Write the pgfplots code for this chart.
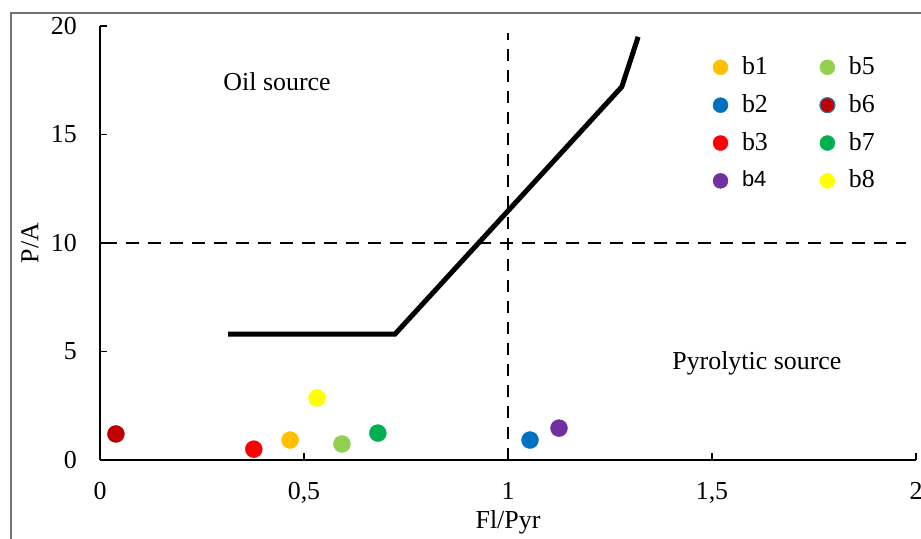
\documentclass[border=0pt]{standalone}
\usepackage{fontspec}
\setmainfont{Liberation Serif}
\setsansfont{Liberation Sans}
\usepackage{pgfplots}
\pgfplotsset{compat=1.18}
\definecolor{cb1}{HTML}{FFC000}
\definecolor{cb2}{HTML}{0070C0}
\definecolor{cb3}{HTML}{FF0000}
\definecolor{cb4}{HTML}{7030A0}
\definecolor{cb5}{HTML}{92D050}
\definecolor{cb6}{HTML}{C00000}
\definecolor{cb7}{HTML}{00B050}
\definecolor{cb8}{HTML}{FFFF00}
\definecolor{ring}{HTML}{41719C}
\begin{document}
\fontsize{26}{31}\selectfont
\begin{tikzpicture}
\useasboundingbox (-100bp,-79bp) rectangle (821bp,460bp);
\draw[black!55, line width=1.6bp] (-89bp,-85bp) -- (-89bp,447bp) -- (830bp,447bp);
\begin{axis}[
  scale only axis, width=816bp, height=434bp,
  xmin=0, xmax=2, ymin=0, ymax=20,
  axis lines=left, axis line style={-, line width=1.3bp, black},
  clip=false,
  xtick={0,0.5,1,1.5,2}, xticklabels={0,{0,5},1,{1,5},2},
  ytick={0,5,10,15,20}, yticklabels={0,5,10,15,20},
  tick align=inside, major tick length=7bp,
  major tick style={line width=1.3bp, black},
  xticklabel style={inner sep=0pt, anchor=north, yshift=-22bp},
  yticklabel style={inner sep=0pt, anchor=east, xshift=-23bp},
  xlabel={Fl/Pyr}, ylabel={P/A},
  xlabel style={at={([yshift=-62bp]rel axis cs:0.5,0)}, anchor=center},
  ylabel style={at={([xshift=-70bp]rel axis cs:0,0.5)}, anchor=center},
  legend columns=2,
  legend image code/.code={\draw[#1, mark size=7.5bp] plot coordinates {(8bp,0bp)};},
  legend style={draw=none, fill=none, inner sep=0pt,
    at={(rel axis cs:0.751,0.935)}, anchor=north west,
    row sep=12bp,
    /tikz/every odd column/.append style={column sep=12bp},
    /tikz/every even column/.append style={column sep=50bp},
    cells={anchor=west}},
  legend cell align=left,
]
% boundary lines
\addplot[forget plot, black, line width=5bp] coordinates {(0.314,5.8) (0.723,5.8) (1.279,17.2) (1.319,19.5)};
\addplot[forget plot, black, line width=2.6bp, dash pattern=on 12bp off 9bp] coordinates {(1,0) (1,19.7)};
\addplot[forget plot, black, line width=2.6bp, dash pattern=on 13bp off 9bp] coordinates {(0.01,10) (1.975,10)};
% samples (legend order: b1 b5 b2 b6 b3 b7 b4 b8)
\addplot[only marks, mark=*, mark size=8.5bp, draw=cb1, fill=cb1, color=cb1] coordinates {(0.466,0.92)};
\addlegendentry{b1}
\addplot[only marks, mark=*, mark size=8.5bp, draw=cb5, fill=cb5, color=cb5] coordinates {(0.593,0.74)};
\addlegendentry{b5}
\addplot[only marks, mark=*, mark size=8.5bp, draw=cb2, fill=cb2, color=cb2] coordinates {(1.054,0.92)};
\addlegendentry{b2}
\addplot[forget plot, only marks, mark=*, mark size=8.5bp, draw=cb6, fill=cb6, color=cb6] coordinates {(0.039,1.2)};
\addlegendimage{only marks, mark=*, mark options={fill=cb6, draw=ring, line width=1.2bp}}
\addlegendentry{b6}
\addplot[only marks, mark=*, mark size=8.5bp, draw=cb3, fill=cb3, color=cb3] coordinates {(0.377,0.5)};
\addlegendentry{b3}
\addplot[only marks, mark=*, mark size=8.5bp, draw=cb7, fill=cb7, color=cb7] coordinates {(0.681,1.24)};
\addlegendentry{b7}
\addplot[only marks, mark=*, mark size=8.5bp, draw=cb4, fill=cb4, color=cb4] coordinates {(1.125,1.47)};
\addlegendentry{\sffamily\fontsize{22}{26}\selectfont b4}
\addplot[only marks, mark=*, mark size=8.5bp, draw=cb8, fill=cb8, color=cb8] coordinates {(0.532,2.86)};
\addlegendentry{b8}
\node at (axis cs:0.434,17.42) {Oil source};
\node at (axis cs:1.610,4.47) {Pyrolytic source};
\end{axis}
\end{tikzpicture}
\end{document}
